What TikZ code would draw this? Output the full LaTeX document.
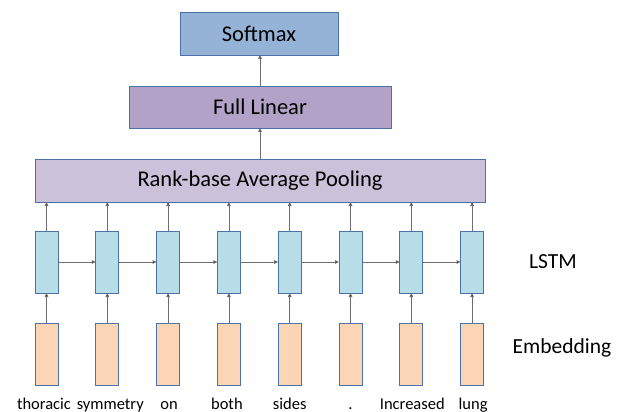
\documentclass[tikz,border=0pt]{standalone}
\usepackage{fontspec}
\setmainfont{Carlito}
\usetikzlibrary{arrows.meta}
\definecolor{edgeblue}{HTML}{4A72A8}
\definecolor{softblue}{HTML}{95B3D7}
\definecolor{linpurple}{HTML}{B3A2C7}
\definecolor{poolpurple}{HTML}{CCC1DA}
\definecolor{cellblue}{HTML}{B7DEE8}
\definecolor{embpeach}{HTML}{FBD5B5}
\definecolor{linkgray}{HTML}{6E6E6E}
\tikzset{
  layerbox/.style={draw=edgeblue, line width=0.9pt, inner sep=0pt, outer sep=0pt, minimum height=43, font=\fontsize{22.5}{26}\selectfont},
  cellbox/.style={draw=edgeblue, line width=0.9pt, inner sep=0pt, outer sep=0pt, minimum width=23, minimum height=62},
  link/.style={draw=linkgray, line width=0.8pt, -{Triangle[length=4pt,width=3.5pt,fill=black]}}
}
\begin{document}
\begin{tikzpicture}[x=1pt,y=-1pt,font=\fontsize{21.5}{24}\selectfont]
    \useasboundingbox (0,0) rectangle (622,412);

    % top layers
    \node[layerbox, fill=softblue, minimum width=158] (softmax) at (259,33.5) {Softmax};
    \node[layerbox, fill=linpurple, minimum width=262, minimum height=42] (linear) at (260,107) {Full Linear};
    \node[layerbox, fill=poolpurple, minimum width=450] (pool) at (260,180.5) {Rank-base Average Pooling};

    % LSTM cells and embeddings
    \foreach \w/\dx [count=\i] in {thoracic/-2.5,symmetry/3,on/1,both/-2,sides/0,./0,Increased/1,lung/1} {
        \node[cellbox, fill=cellblue] (lstm\i) at (46.5+60.8*\i-60.8,262) {};
        \node[cellbox, fill=embpeach] (emb\i) at (46.5+60.8*\i-60.8,354) {};
        \node[anchor=base, font=\fontsize{16.5}{20}\selectfont] (word\i) at (46.5+60.8*\i-60.8+\dx,409) {\w};
        \draw[link] (emb\i.north) -- (lstm\i.south);
        \draw[link] (lstm\i.north) -- (lstm\i.north |- pool.south);
    }
    \foreach \i [evaluate=\i as \j using int(\i+1)] in {1,...,7}
        \draw[link] (lstm\i.east) -- (lstm\j.west);

    \draw[link] (pool.north) -- (linear.south);
    \draw[link] (linear.north) -- (linear.north |- softmax.south);

    % side labels
    \node (lstmlabel) at (553,262) {LSTM};
    \node (emblabel) at (562,348) {Embedding};
\end{tikzpicture}
\end{document}
